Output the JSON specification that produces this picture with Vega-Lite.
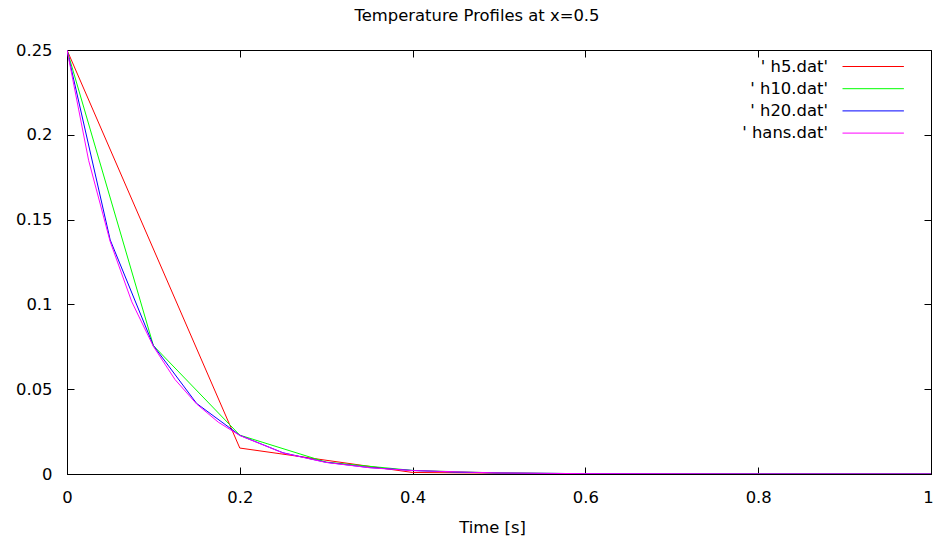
{
  "$schema": "https://vega.github.io/schema/vega-lite/v6.json",
  "width": 864,
  "height": 424,
  "autosize": {"type": "none"},
  "padding": {"left": 67, "top": 50, "right": 2, "bottom": 70},
  "background": "white",
  "title": {
    "text": "Temperature Profiles at x=0.5",
    "font": "DejaVu Sans",
    "fontSize": 16.4,
    "fontWeight": "normal",
    "color": "black",
    "anchor": "middle",
    "baseline": "alphabetic",
    "dx": -22,
    "offset": 5
  },
  "config": {
    "view": {"stroke": "black", "strokeWidth": 1},
    "axis": {
      "labelFont": "DejaVu Sans",
      "labelFontSize": 16.4,
      "labelColor": "black",
      "titleFont": "DejaVu Sans",
      "titleFontSize": 16.4,
      "titleFontWeight": "normal",
      "titleColor": "black",
      "domainColor": "black",
      "tickColor": "black",
      "tickSize": -7,
      "grid": false
    }
  },
  "data": {
    "values": [
      {"t": 0.0, "T": 0.25, "s": "'  h5.dat'"},
      {"t": 0.2, "T": 0.0153, "s": "'  h5.dat'"},
      {"t": 0.4, "T": 0.0009, "s": "'  h5.dat'"},
      {"t": 0.6, "T": 0.0001, "s": "'  h5.dat'"},
      {"t": 0.8, "T": 0.0, "s": "'  h5.dat'"},
      {"t": 1.0, "T": 0.0, "s": "'  h5.dat'"},

      {"t": 0.0, "T": 0.25, "s": "'  h10.dat'"},
      {"t": 0.1, "T": 0.0757, "s": "'  h10.dat'"},
      {"t": 0.2, "T": 0.0229, "s": "'  h10.dat'"},
      {"t": 0.3, "T": 0.0070, "s": "'  h10.dat'"},
      {"t": 0.4, "T": 0.0021, "s": "'  h10.dat'"},
      {"t": 0.5, "T": 0.0006, "s": "'  h10.dat'"},
      {"t": 0.6, "T": 0.0002, "s": "'  h10.dat'"},
      {"t": 0.7, "T": 0.00006, "s": "'  h10.dat'"},
      {"t": 0.8, "T": 0.00002, "s": "'  h10.dat'"},
      {"t": 0.9, "T": 0.0, "s": "'  h10.dat'"},
      {"t": 1.0, "T": 0.0, "s": "'  h10.dat'"},

      {"t": 0.0, "T": 0.25, "s": "'  h20.dat'"},
      {"t": 0.05, "T": 0.138, "s": "'  h20.dat'"},
      {"t": 0.1, "T": 0.0757, "s": "'  h20.dat'"},
      {"t": 0.15, "T": 0.0416, "s": "'  h20.dat'"},
      {"t": 0.2, "T": 0.0228, "s": "'  h20.dat'"},
      {"t": 0.25, "T": 0.0125, "s": "'  h20.dat'"},
      {"t": 0.3, "T": 0.0069, "s": "'  h20.dat'"},
      {"t": 0.35, "T": 0.0038, "s": "'  h20.dat'"},
      {"t": 0.4, "T": 0.0021, "s": "'  h20.dat'"},
      {"t": 0.45, "T": 0.0011, "s": "'  h20.dat'"},
      {"t": 0.5, "T": 0.0006, "s": "'  h20.dat'"},
      {"t": 0.6, "T": 0.0002, "s": "'  h20.dat'"},
      {"t": 0.7, "T": 0.00005, "s": "'  h20.dat'"},
      {"t": 0.8, "T": 0.00002, "s": "'  h20.dat'"},
      {"t": 1.0, "T": 0.0, "s": "'  h20.dat'"},

      {"t": 0.0, "T": 0.25, "s": "'  hans.dat'"},
      {"t": 0.025, "T": 0.185, "s": "'  hans.dat'"},
      {"t": 0.05, "T": 0.137, "s": "'  hans.dat'"},
      {"t": 0.075, "T": 0.1015, "s": "'  hans.dat'"},
      {"t": 0.1, "T": 0.0752, "s": "'  hans.dat'"},
      {"t": 0.125, "T": 0.0557, "s": "'  hans.dat'"},
      {"t": 0.15, "T": 0.0413, "s": "'  hans.dat'"},
      {"t": 0.175, "T": 0.0306, "s": "'  hans.dat'"},
      {"t": 0.2, "T": 0.0227, "s": "'  hans.dat'"},
      {"t": 0.25, "T": 0.0124, "s": "'  hans.dat'"},
      {"t": 0.3, "T": 0.0068, "s": "'  hans.dat'"},
      {"t": 0.35, "T": 0.0037, "s": "'  hans.dat'"},
      {"t": 0.4, "T": 0.0020, "s": "'  hans.dat'"},
      {"t": 0.5, "T": 0.0006, "s": "'  hans.dat'"},
      {"t": 0.6, "T": 0.0002, "s": "'  hans.dat'"},
      {"t": 0.8, "T": 0.00002, "s": "'  hans.dat'"},
      {"t": 1.0, "T": 0.0, "s": "'  hans.dat'"}
    ]
  },
  "layer": [
    {
      "mark": {"type": "line", "strokeWidth": 1, "clip": true},
      "encoding": {
        "x": {
          "field": "t", "type": "quantitative",
          "scale": {"domain": [0, 1], "nice": false},
          "axis": {
            "title": "Time [s]",
            "values": [0, 0.2, 0.4, 0.6, 0.8, 1],
            "format": "~g",
            "labelPadding": 22,
            "titlePadding": 14,
            "titleX": 425,
            "labelFlush": false,
            "labelOffset": {"condition": {"test": "datum.value == 1", "value": -3}, "value": 0}
          }
        },
        "y": {
          "field": "T", "type": "quantitative",
          "scale": {"domain": [0, 0.25], "nice": false},
          "axis": {"title": null, "values": [0, 0.05, 0.1, 0.15, 0.2, 0.25], "format": "~g", "labelPadding": 22, "labelFlush": false}
        },
        "color": {
          "field": "s", "type": "nominal",
          "scale": {
            "domain": ["'  h5.dat'", "'  h10.dat'", "'  h20.dat'", "'  hans.dat'"],
            "range": ["#ff0000", "#00ff00", "#0000ff", "#ff00ff"]
          },
          "legend": {
            "title": null,
            "orient": "none",
            "legendX": 674,
            "legendY": 5,
            "padding": 0,
            "symbolType": "M-2.856,0H2.856",
            "symbolSize": 462,
            "symbolStrokeWidth": 1,
            "symbolOffset": 120.7,
            "rowPadding": 2.2,
            "labelAlign": "right",
            "labelOffset": -56.8,
            "labelFont": "DejaVu Sans",
            "labelFontSize": 16.4,
            "labelColor": "black",
            "labelLimit": 0,
            "encode": {
              "symbols": {
                "update": {
                  "stroke": {"scale": "color", "field": "value"},
                  "fill": {"value": "transparent"},
                  "strokeWidth": {"value": 1},
                  "opacity": {"value": 1}
                }
              }
            }
          }
        }
      }
    },
    {
      "mark": {"type": "line", "opacity": 0},
      "encoding": {
        "x": {"field": "t", "type": "quantitative", "axis": {"orient": "top", "labels": false, "domain": false, "title": null, "values": [0, 0.2, 0.4, 0.6, 0.8, 1]}},
        "y": {"field": "T", "type": "quantitative", "axis": {"orient": "right", "labels": false, "domain": false, "title": null, "values": [0, 0.05, 0.1, 0.15, 0.2, 0.25]}},
        "detail": {"field": "s"}
      }
    }
  ],
  "resolve": {"axis": {"x": "independent", "y": "independent"}}
}
